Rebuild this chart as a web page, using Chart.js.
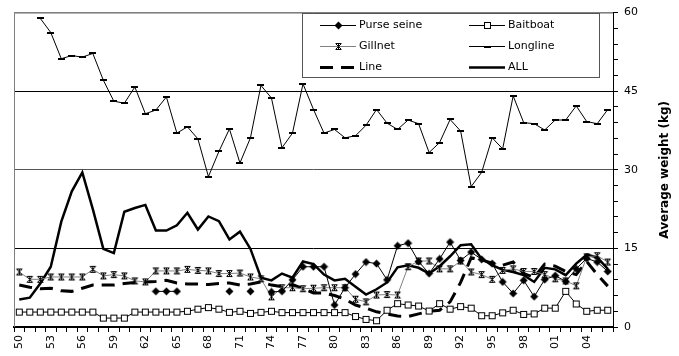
<!DOCTYPE html>
<html><head><meta charset="utf-8">
<script src="https://cdn.jsdelivr.net/npm/chart.js@4.4.1/dist/chart.umd.min.js"></script>
<style>html,body{margin:0;padding:0;background:#fff;}canvas{display:block;}</style>
</head><body>
<canvas id="c" width="679" height="356"></canvas>
<script>
const years = ['50','51','52','53','54','55','56','57','58','59','60','61','62','63','64','65','66','67','68','69','70','71','72','73','74','75','76','77','78','79','80','81','82','83','84','85','86','87','88','89','90','91','92','93','94','95','96','97','98','99','00','01','02','03','04','05','06'];
const shownTicks = ['50','53','56','59','62','65','68','71','74','77','80','83','86','89','92','95','98','01','04'];
const yTicksShown = [0,15,30,45,60];

const purseSeine = [null,null,null,null,null,null,null,null,null,null,null,null,null,6.8,6.8,6.8,null,null,null,null,6.8,null,6.8,null,6.7,6.8,9.0,11.5,11.5,11.5,4.2,7.5,10.1,12.4,12.1,9.0,15.5,16.0,12.5,10.2,13.0,16.2,12.7,14.3,12.9,12.1,8.6,6.4,8.9,5.8,9.05,9.8,8.7,11.1,13.1,12.4,10.6];
const baitboat = [2.85,2.85,2.85,2.85,2.85,2.85,2.85,2.85,1.7,1.7,1.7,2.85,2.85,2.85,2.85,2.85,3.0,3.4,3.7,3.4,2.8,3.0,2.6,2.8,3.0,2.75,2.75,2.75,2.75,2.75,2.75,2.75,2.0,1.45,1.2,3.2,4.45,4.2,4.0,3.05,4.45,3.4,3.9,3.6,2.15,2.15,2.7,3.2,2.4,2.5,3.6,3.6,6.8,4.4,3.0,3.2,3.2];
const gillnet = [10.5,9.1,9.1,9.55,9.55,9.55,9.55,11.0,9.75,10.0,9.75,8.8,8.6,10.7,10.7,10.7,11.0,10.8,10.7,10.2,10.2,10.3,9.55,9.2,5.75,7.5,7.5,7.3,7.4,7.5,7.5,7.5,5.3,4.8,6.1,6.2,6.1,11.5,12.6,12.6,11.1,11.1,12.6,10.5,10.0,9.1,10.8,11.1,10.6,10.6,10.0,9.2,8.8,7.85,13.4,13.6,12.4];
const longline = [null,null,58.9,56.2,51.2,51.8,51.5,52.2,47.1,43.1,42.7,45.8,40.7,41.4,43.9,37.0,38.2,35.9,28.7,33.5,37.8,31.3,36.1,46.1,43.7,34.2,37.0,46.4,41.5,37.0,37.7,36.1,36.5,38.5,41.5,38.9,37.7,39.5,38.8,33.3,35.2,39.6,37.4,26.8,29.5,36.1,34.0,44.1,39.0,38.8,37.6,39.5,39.5,42.2,39.2,38.8,41.5];
const lineGear = [8.0,7.6,7.3,7.4,6.9,6.8,7.4,8.0,8.0,8.0,8.3,8.5,8.6,8.7,8.9,8.4,8.2,8.2,8.1,8.3,8.4,8.0,8.2,8.6,8.0,7.7,8.1,7.3,6.5,6.5,6.0,5.3,4.2,3.6,2.9,2.5,2.1,2.0,2.5,3.0,3.2,4.8,8.5,13.2,12.8,12.2,11.8,12.4,10.2,9.5,12.0,11.6,10.6,10.0,12.5,10.0,7.8];
const allGears = [5.25,5.6,8.3,11.5,20.1,25.9,29.5,22.5,14.9,14.1,22.0,22.7,23.3,18.4,18.4,19.4,21.8,18.6,21.1,20.2,16.7,18.2,14.9,9.4,8.9,10.2,9.4,12.5,12.0,10.0,8.9,9.2,7.7,6.2,7.2,8.5,11.4,11.8,11.3,10.2,11.6,13.5,15.6,15.8,13.0,11.8,10.9,10.5,9.9,8.6,11.3,11.0,9.9,12.1,13.8,13.3,11.1];

function makeMarker(w, h, draw) {
  const c = document.createElement('canvas'); c.width = w; c.height = h;
  draw(c.getContext('2d')); return c;
}
const mDiamond = makeMarker(9, 9, g => { g.fillStyle = '#000'; g.beginPath(); g.moveTo(4.5, 0.5); g.lineTo(8.5, 4.5); g.lineTo(4.5, 8.5); g.lineTo(0.5, 4.5); g.closePath(); g.fill(); });
const mSquare = makeMarker(9, 9, g => { g.fillStyle = '#fff'; g.fillRect(1.5, 1.5, 6, 6); g.strokeStyle = '#000'; g.lineWidth = 1; g.strokeRect(1.5, 1.5, 6, 6); });
const mStar = makeMarker(9, 9, g => { g.strokeStyle = '#000'; g.lineWidth = 1; g.beginPath(); g.moveTo(1.5, 1.5); g.lineTo(7.5, 7.5); g.moveTo(7.5, 1.5); g.lineTo(1.5, 7.5); g.moveTo(4.5, 1); g.lineTo(4.5, 8); g.moveTo(2, 1.5); g.lineTo(7, 1.5); g.moveTo(2, 7.5); g.lineTo(7, 7.5); g.stroke(); });
const mDash = makeMarker(7, 2, g => { g.fillStyle = '#000'; g.fillRect(0, 0, 7, 2); });

const FONT = 'DejaVu Sans';

const datasets = [
  {label: 'Purse seine', data: purseSeine, borderColor: '#000', borderWidth: 1, pointStyle: mDiamond, pointRadius: 4, marker: mDiamond},
  {label: 'Baitboat', data: baitboat, borderColor: '#000', borderWidth: 1, pointStyle: mSquare, pointRadius: 4, marker: mSquare},
  {label: 'Gillnet', data: gillnet, borderColor: '#808080', borderWidth: 1, pointStyle: mStar, pointRadius: 4, marker: mStar},
  {label: 'Longline', data: longline, borderColor: '#000', borderWidth: 1, pointStyle: mDash, pointRadius: 4, marker: mDash},
  {label: 'Line', data: lineGear, borderColor: '#000', borderWidth: 3, borderDash: [13, 8], pointRadius: 0},
  {label: 'ALL', data: allGears, borderColor: '#000', borderWidth: 2.5, pointRadius: 0}
];
datasets.forEach(d => { d.spanGaps = false; d.tension = 0; d.fill = false; d.borderCapStyle = 'butt'; d.pointHoverRadius = d.pointRadius; });

const framePlugin = {
  id: 'frame',
  beforeDatasetsDraw(chart) {
    const {ctx, chartArea: a} = chart;
    ctx.save();
    ctx.strokeStyle = '#808080'; ctx.lineWidth = 1;
    ctx.beginPath();
    ctx.moveTo(a.left + 0.5, a.bottom); ctx.lineTo(a.left + 0.5, a.top + 0.5); ctx.lineTo(a.right, a.top + 0.5);
    ctx.stroke();
    ctx.restore();
  }
};

const legendPlugin = {
  id: 'customLegend',
  afterDraw(chart) {
    const ctx = chart.ctx;
    ctx.save();
    ctx.fillStyle = '#fff'; ctx.fillRect(302, 13, 297, 64);
    ctx.strokeStyle = '#555'; ctx.lineWidth = 1; ctx.strokeRect(302.5, 13.5, 297, 64);
    const cols = [{x0: 320, x1: 356, tx: 359}, {x0: 469, x1: 505, tx: 508}];
    const rows = [25, 46, 67];
    chart.data.datasets.forEach((d, i) => {
      const c = cols[i % 2], y = rows[Math.floor(i / 2)] + 0.5;
      ctx.save();
      ctx.strokeStyle = d.borderColor; ctx.lineWidth = d.borderWidth;
      ctx.setLineDash(d.borderDash || []);
      ctx.beginPath(); ctx.moveTo(c.x0, y); ctx.lineTo(c.x1, y); ctx.stroke();
      ctx.restore();
      if (d.marker) {
        const m = d.marker, mx = (c.x0 + c.x1) / 2;
        ctx.drawImage(m, Math.round(mx - m.width / 2), Math.round(y - m.height / 2));
      }
      ctx.fillStyle = '#000'; ctx.font = '11px "' + FONT + '"';
      ctx.textAlign = 'left'; ctx.textBaseline = 'middle';
      ctx.fillText(d.label, c.tx, y);
    });
    ctx.restore();
  }
};

const titlePlugin = {
  id: 'yTitle',
  afterDraw(chart) {
    const ctx = chart.ctx, a = chart.chartArea;
    ctx.save();
    ctx.translate(665, (a.top + a.bottom) / 2);
    ctx.rotate(-Math.PI / 2);
    ctx.fillStyle = '#000'; ctx.font = 'bold 12px "' + FONT + '"';
    ctx.textAlign = 'center'; ctx.textBaseline = 'middle';
    ctx.fillText('Average weight (kg)', 0, 0);
    ctx.restore();
  }
};

new Chart(document.getElementById('c'), {
  type: 'line',
  data: {labels: years, datasets: datasets},
  options: {
    responsive: false, animation: false, devicePixelRatio: 1,
    layout: {padding: {left: 14, top: 11, right: 0, bottom: 0}},
    plugins: {legend: {display: false}, tooltip: {enabled: false}},
    events: [],
    scales: {
      x: {
        type: 'category', offset: true,
        grid: {offset: true, drawOnChartArea: false, color: '#000', tickColor: '#000', tickLength: 5},
        border: {color: '#000', width: 2},
        ticks: {autoSkip: false, minRotation: 90, maxRotation: 90, padding: 3, color: '#000',
          font: {family: FONT, size: 11},
          callback: (v, i) => shownTicks.includes(years[i]) ? years[i] : ''},
        afterFit: s => { s.height = 29; }
      },
      y: {
        position: 'right', min: 0, max: 60,
        ticks: {stepSize: 3, maxTicksLimit: 30, autoSkip: false, padding: 6, color: '#000', font: {family: FONT, size: 11},
          callback: v => yTicksShown.includes(v) ? String(v) : ''},
        grid: {
          color: c => { const v = c.tick ? c.tick.value : null;
            if (v === 15 || v === 45) return '#000';
            if (v === 30) return '#555';
            if (v === 60) return '#808080';
            return 'rgba(0,0,0,0)'; },
          tickColor: '#000', tickLength: 5
        },
        border: {color: '#000', width: 1},
        afterFit: s => { s.width = 66; }
      }
    }
  },
  plugins: [framePlugin, legendPlugin, titlePlugin]
});
</script>
</body></html>
